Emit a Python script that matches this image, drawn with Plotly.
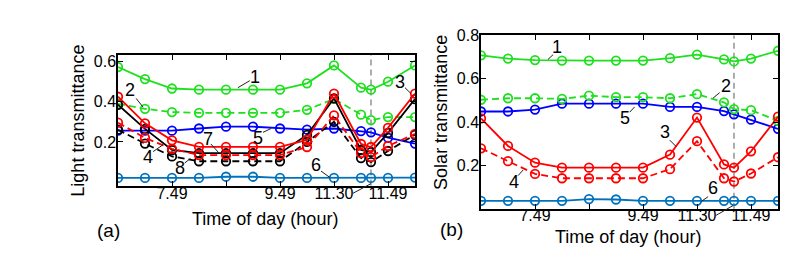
import plotly.graph_objects as go

# ---------------- data ----------------
x_pos = [0, 1, 2, 3, 4, 5, 6, 7, 8, 9, 9.37, 10, 11]
tick_pos = [0, 2, 4, 6, 8, 10]
tick_text = ["", "7.49", "", "9.49", "11.30", "11.49"]
marker_line_x = 9.37

# (a) Light transmittance
a_1 = [0.573, 0.513, 0.466, 0.460, 0.460, 0.460, 0.460, 0.492, 0.581, 0.470, 0.460, 0.500, 0.581]
a_2 = [0.389, 0.365, 0.349, 0.345, 0.345, 0.345, 0.345, 0.360, 0.414, 0.336, 0.309, 0.324, 0.324]
a_3 = [0.425, 0.293, 0.208, 0.176, 0.176, 0.176, 0.176, 0.210, 0.441, 0.190, 0.175, 0.270, 0.441]
a_4 = [0.296, 0.220, 0.166, 0.135, 0.135, 0.135, 0.135, 0.175, 0.332, 0.145, 0.125, 0.180, 0.240]
a_5 = [0.256, 0.256, 0.256, 0.267, 0.276, 0.276, 0.267, 0.261, 0.267, 0.254, 0.248, 0.221, 0.192]
a_6 = [0.021, 0.021, 0.021, 0.021, 0.027, 0.027, 0.021, 0.021, 0.021, 0.021, 0.021, 0.021, 0.023]
a_7 = [0.385, 0.265, 0.160, 0.144, 0.144, 0.144, 0.144, 0.235, 0.417, 0.160, 0.150, 0.245, 0.413]
a_8 = [0.261, 0.192, 0.128, 0.104, 0.104, 0.104, 0.104, 0.200, 0.300, 0.120, 0.100, 0.155, 0.236]

# (b) Solar transmittance
b_1 = [0.708, 0.693, 0.686, 0.684, 0.684, 0.684, 0.684, 0.695, 0.711, 0.689, 0.680, 0.693, 0.729]
b_2 = [0.503, 0.510, 0.510, 0.507, 0.522, 0.515, 0.515, 0.510, 0.529, 0.491, 0.460, 0.455, 0.406]
b_3 = [0.417, 0.290, 0.213, 0.190, 0.190, 0.190, 0.190, 0.250, 0.421, 0.205, 0.190, 0.265, 0.425]
b_4 = [0.279, 0.220, 0.161, 0.141, 0.141, 0.141, 0.141, 0.183, 0.312, 0.141, 0.126, 0.163, 0.238]
b_5 = [0.449, 0.449, 0.458, 0.485, 0.485, 0.485, 0.485, 0.470, 0.470, 0.451, 0.436, 0.411, 0.369]
b_6 = [0.037, 0.037, 0.037, 0.037, 0.045, 0.043, 0.037, 0.037, 0.037, 0.037, 0.037, 0.037, 0.037]

GREEN = "#1ee01e"
RED = "#ff0000"
BLUE = "#0000ff"
STEEL = "#0072bd"
BLACK = "#000000"
DASH = "7px,4px"

fig = go.Figure()

def add(y, color, dash, xa, ya):
    fig.add_trace(go.Scatter(
        x=x_pos, y=y, mode="lines+markers", xaxis=xa, yaxis=ya,
        line=dict(color=color, width=1.8, dash=dash),
        marker=dict(symbol="circle-open", size=8.5, color=color, line=dict(width=1.8, color=color)),
        showlegend=False, hoverinfo="skip"))

for y, c, d in [(a_6, STEEL, "solid"), (a_5, BLUE, "solid"), (a_2, GREEN, DASH), (a_1, GREEN, "solid"),
                (a_8, BLACK, DASH), (a_7, BLACK, "solid"), (a_4, RED, DASH), (a_3, RED, "solid")]:
    add(y, c, d, "x", "y")
for y, c, d in [(b_6, STEEL, "solid"), (b_5, BLUE, "solid"), (b_2, GREEN, DASH), (b_1, GREEN, "solid"),
                (b_4, RED, DASH), (b_3, RED, "solid")]:
    add(y, c, d, "x2", "y2")

FONT = "Liberation Sans, Arial, sans-serif"
axis_common = dict(showline=True, linecolor="black", linewidth=1.5, mirror="ticks",
                   ticks="inside", ticklen=5, tickwidth=1, tickcolor="black",
                   showgrid=False, zeroline=False, tickfont=dict(size=16, color="black", family=FONT))

fig.update_layout(
    width=795, height=258, margin=dict(l=0, r=0, t=0, b=0),
    paper_bgcolor="white", plot_bgcolor="white", font=dict(family=FONT, color="black"),
    xaxis=dict(domain=[110/795, 407/795], range=[0, 11], tickvals=tick_pos, ticktext=tick_text, anchor="y",
               ticklabelstandoff=-8, **axis_common),
    yaxis=dict(domain=[(258-175)/258, (258-40)/258], range=[-0.017, 0.634], tickvals=[0.2, 0.4, 0.6],
               ticktext=["0.2", "0.4", "0.6"], anchor="x", ticklabelstandoff=-3, **axis_common),
    xaxis2=dict(domain=[473/795, 770/795], range=[0, 11], tickvals=tick_pos, ticktext=tick_text, anchor="y2",
                ticklabelstandoff=-9, **axis_common),
    yaxis2=dict(domain=[(258-199)/258, (258-20)/258], range=[0, 0.8], tickvals=[0.2, 0.4, 0.6, 0.8],
                ticktext=["0.2", "0.4", "0.6", "0.8"], anchor="x2", ticklabelstandoff=-3, **axis_common),
)

shapes = []
for xr, yr in [("x", "y domain"), ("x2", "y2 domain")]:
    shapes.append(dict(type="line", xref=xr, yref=yr, x0=marker_line_x, x1=marker_line_x, y0=0, y1=1,
                       line=dict(color="#777777", width=1.2, dash="6px,4px"), layer="below"))

annots = []
def label(txt, xr, yr, x, y, lx0, ly0, lx1, ly1):
    annots.append(dict(text=txt, xref=xr, yref=yr, x=x, y=y, showarrow=False,
                       font=dict(size=18, color="black", family=FONT)))
    shapes.append(dict(type="line", xref=xr, yref=yr, x0=lx0, y0=ly0, x1=lx1, y1=ly1,
                       line=dict(color="#222222", width=1)))

# panel (a) curve labels
label("1", "x", "y", 5.06, 0.524, 4.88, 0.505, 4.44, 0.470)
label("2", "x", "y", 0.43, 0.457, 0.67, 0.417, 0.93, 0.373)
label("3", "x", "y", 10.46, 0.497, 10.63, 0.470, 10.85, 0.441)
label("4", "x", "y", 1.11, 0.125, 1.30, 0.152, 1.67, 0.186)
label("5", "x", "y", 5.19, 0.219, 5.37, 0.248, 5.67, 0.267)
label("6", "x", "y", 7.34, 0.084, 7.52, 0.055, 7.85, 0.023)
label("7", "x", "y", 3.33, 0.217, 3.44, 0.190, 3.74, 0.145)
label("8", "x", "y", 2.28, 0.071, 2.47, 0.095, 2.68, 0.118)
# panel (b) curve labels
label("1", "x2", "y2", 2.83, 0.748, 2.67, 0.711, 2.48, 0.689)
label("2", "x2", "y2", 9.09, 0.565, 8.84, 0.536, 8.59, 0.510)
label("5", "x2", "y2", 5.32, 0.417, 5.51, 0.446, 5.69, 0.470)
label("3", "x2", "y2", 6.80, 0.354, 6.99, 0.317, 7.23, 0.287)
label("4", "x2", "y2", 1.22, 0.123, 1.37, 0.153, 1.56, 0.179)
label("6", "x2", "y2", 8.59, 0.098, 8.41, 0.056, 8.16, 0.034)

# leader lines from the 11.30 tick label to the dashed line
shapes.append(dict(type="line", xref="x", yref="paper", x0=8.7, y0=(258-183)/258, x1=9.37, y1=(258-173)/258,
                   line=dict(color="#222222", width=1)))
shapes.append(dict(type="line", xref="x2", yref="paper", x0=8.71, y0=(258-205.7)/258, x1=9.33, y1=(258-195.7)/258,
                   line=dict(color="#222222", width=1)))

# axis titles and panel tags
def ptext(txt, px, py, size, angle=0):
    annots.append(dict(text=txt, xref="paper", yref="paper", x=px/795, y=(258-py)/258, showarrow=False,
                       textangle=angle, xanchor="center", yanchor="middle",
                       font=dict(size=size, color="black", family=FONT)))

ptext("Light transmittance", 70, 108, 18, -90)
ptext("Time of day (hour)", 257, 210, 18)
ptext("(a)", 100, 221, 19)
ptext("Solar transmittance", 433, 100, 18, -90)
ptext("Time of day (hour)", 620, 228, 18)
ptext("(b)", 443, 220, 19)

fig.update_layout(shapes=shapes, annotations=annots)
fig.write_html("out.html")
